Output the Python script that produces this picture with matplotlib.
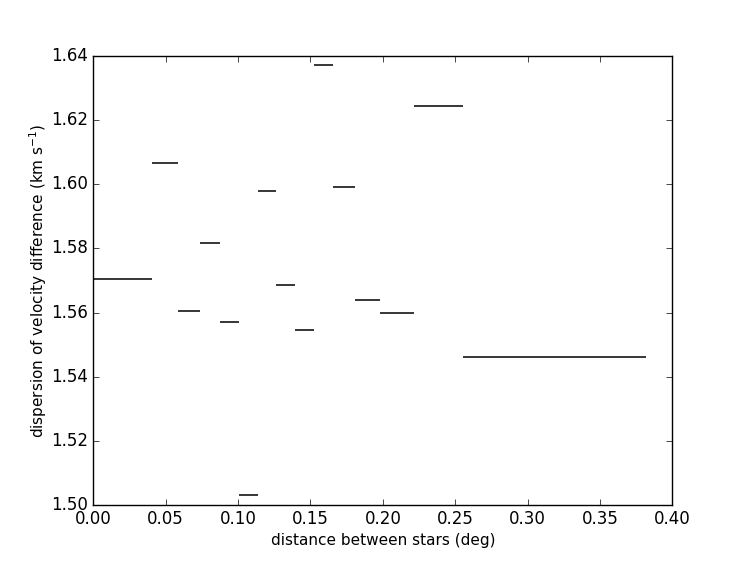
import matplotlib
matplotlib.use("Agg")
import matplotlib.pyplot as plt
import numpy as np

plt.style.use("classic")
plt.rcParams["mathtext.fontset"] = "dejavusans"
plt.rcParams["mathtext.default"] = "regular"
plt.rcParams["font.family"] = ["DejaVu Sans"]

# bin edges (deg) and dispersion values per bin
bin_edges = [0.0, 0.0403, 0.0583, 0.0737, 0.0876, 0.1007, 0.1134, 0.1262,
             0.1394, 0.1523, 0.1658, 0.1806, 0.1982, 0.2214, 0.2553, 0.3815]
dispersion = [1.5705, 1.6067, 1.5605, 1.5818, 1.5569, 1.5031, 1.5979, 1.5685,
              1.5545, 1.6372, 1.5993, 1.5640, 1.5599, 1.6245, 1.5460]

fig = plt.figure(figsize=(7.47, 5.61), dpi=100, facecolor="white")
ax = fig.add_subplot(111)
ax.set_position([0.125, 0.1, 0.775, 0.8])

ax.hlines(dispersion, bin_edges[:-1], bin_edges[1:], colors="black", linewidth=1.1)

ax.set_xlim(0.0, 0.40)
ax.set_ylim(1.50, 1.64)
ax.set_xticks(np.arange(0.0, 0.401, 0.05))
ax.set_yticks(np.arange(1.50, 1.6401, 0.02))
ax.xaxis.set_major_formatter(matplotlib.ticker.FormatStrFormatter("%.2f"))
ax.yaxis.set_major_formatter(matplotlib.ticker.FormatStrFormatter("%.2f"))
ax.set_xlabel("distance between stars (deg)", fontsize=11, labelpad=3)
ax.set_ylabel("dispersion of velocity difference (km s$^{-1}$)", fontsize=11, labelpad=1)

fig.savefig("out.png", dpi=100, facecolor="white")
